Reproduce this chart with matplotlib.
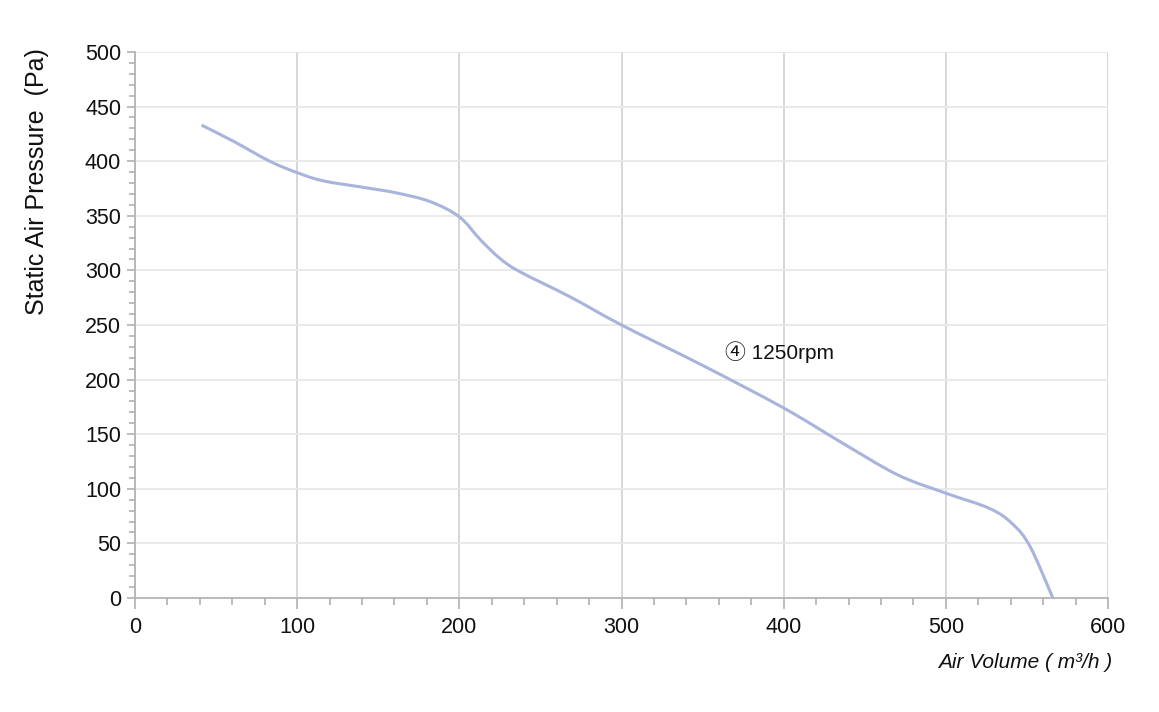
import matplotlib
matplotlib.use('Agg')
import matplotlib.pyplot as plt
import numpy as np
from matplotlib.path import Path
from matplotlib.patches import PathPatch
from matplotlib.ticker import MultipleLocator

plt.rcParams['font.family'] = ['Liberation Sans', 'Noto Sans CJK SC', 'DejaVu Sans']

# points (air volume m3/h, static pressure Pa)
air_volume = [41, 61, 83, 100, 116, 141, 161, 182, 200, 213, 225, 237, 268, 300, 350, 400, 435, 470, 500, 527, 541, 552, 566]
pressure = [433, 418, 400, 389.5, 382, 376, 371, 363, 349, 328, 311, 299, 276, 250, 213, 174, 143, 113, 96, 82, 68, 47, 0]
curve_label = '④ 1250rpm'
label_pos = (364, 225)

line_color = '#a9b4dd'


def smooth_path(xs, ys):
    # Catmull-Rom through the points, drawn as cubic bezier segments
    pts = np.column_stack([xs, ys]).astype(float)
    verts = [pts[0]]
    codes = [Path.MOVETO]
    n = len(pts)
    for i in range(n - 1):
        p0 = pts[i - 1] if i > 0 else pts[i]
        p1 = pts[i]
        p2 = pts[i + 1]
        p3 = pts[i + 2] if i + 2 < n else pts[i + 1]
        c1 = p1 + (p2 - p0) / 6.0
        c2 = p2 - (p3 - p1) / 6.0
        verts += [c1, c2, p2]
        codes += [Path.CURVE4] * 3
    return Path(verts, codes)


fig = plt.figure(figsize=(11.59, 7.12), dpi=100)
ax = fig.add_axes([0.1165, 0.1601, 0.8395, 0.7669])

ax.set_xlim(0, 600)
ax.set_ylim(0, 500)
ax.xaxis.set_major_locator(MultipleLocator(100))
ax.xaxis.set_minor_locator(MultipleLocator(20))
ax.yaxis.set_major_locator(MultipleLocator(50))
ax.yaxis.set_minor_locator(MultipleLocator(10))

ax.grid(axis='x', which='major', color='#d4d4d4', linewidth=1.3)
ax.grid(axis='y', which='major', color='#e8e8e8', linewidth=1.3)
ax.set_axisbelow(True)

for side in ['top', 'right']:
    ax.spines[side].set_visible(False)
for side in ['left', 'bottom']:
    ax.spines[side].set_color('#b5b5b5')
    ax.spines[side].set_linewidth(1.3)

ax.tick_params(axis='both', which='both', colors='#b0b0b0', labelcolor='#111111', width=1.2)
ax.tick_params(axis='y', which='major', length=6, pad=4, labelsize=15.5)
ax.tick_params(axis='y', which='minor', length=4)
ax.tick_params(axis='x', which='major', length=8, pad=6, labelsize=15.5)
ax.tick_params(axis='x', which='minor', length=5)

patch = PathPatch(smooth_path(air_volume, pressure), facecolor='none',
                  edgecolor=line_color, linewidth=2.2, capstyle='butt')
ax.add_patch(patch)

ax.text(label_pos[0], label_pos[1], curve_label, fontsize=15, ha='left', va='center', color='#111111')

ax.set_ylabel('Static Air Pressure  (Pa)', fontsize=18, color='#111111')
ax.yaxis.set_label_coords(-0.088, 0.762)

fig.text(0.960, 0.069, 'Air Volume ( m³/h )', fontsize=15, style='italic',
         ha='right', va='center', color='#111111')

fig.savefig('out.png', dpi=100, facecolor='white')
